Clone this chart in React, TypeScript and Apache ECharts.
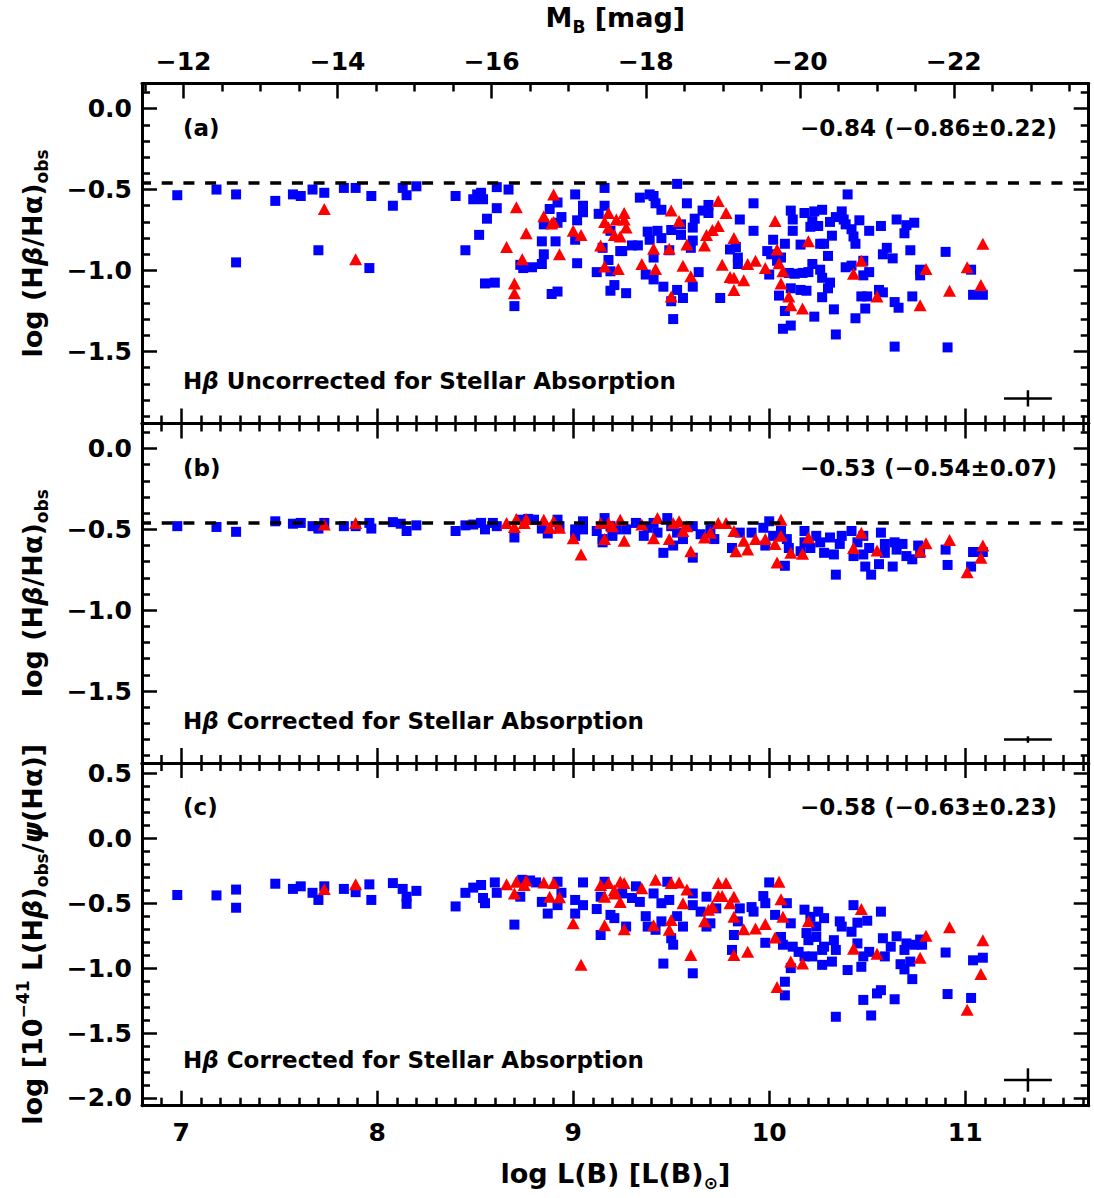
import React, { useEffect, useRef } from 'react';
import * as echarts from 'echarts';

// ---------------- data ----------------
const X_RANGE = [6.8, 11.63];
const MB_RANGE = [-23.75, -11.46];
const Y_RANGES = [[-1.945, 0.155], [-1.945, 0.155], [-2.06, 0.58]];
const BALMER_LEVEL = -0.456;

const PANEL_TAGS = ['(a)', '(b)', '(c)'];
const PANEL_STATS = ['−0.84 (−0.86±0.22)', '−0.53 (−0.54±0.07)', '−0.58 (−0.63±0.23)'];
const PANEL_NOTES = [' Uncorrected for Stellar Absorption', ' Corrected for Stellar Absorption', ' Corrected for Stellar Absorption'];

const blueA = [
  [6.98,-0.535],[7.18,-0.50],[7.28,-0.53],[7.48,-0.57],[7.57,-0.53],[7.61,-0.54],[7.67,-0.50],[7.73,-0.52],[7.83,-0.49],[7.89,-0.49],
  [7.97,-0.54],[8.08,-0.60],[8.13,-0.49],[8.15,-0.535],[8.20,-0.48],[7.28,-0.95],[7.70,-0.875],[7.96,-0.985],[8.40,-0.54],[8.49,-0.56],
  [8.51,-0.53],[8.53,-0.52],[8.54,-0.56],[8.61,-0.485],[8.67,-0.50],[8.61,-0.615],[8.56,-0.68],[8.52,-0.78],[8.45,-0.875],[8.55,-1.08],
  [8.60,-1.075],[8.70,-1.22],[8.73,-0.965],[8.745,-0.985],[8.79,-0.98],[8.84,-0.96],[8.85,-0.90],[8.84,-0.82],[8.91,-0.82],[8.88,-0.62],
  [8.92,-0.58],[8.94,-0.67],[8.85,-0.715],[8.92,-0.705],[8.89,-1.145],[8.92,-1.13],[9.01,-0.53],[9.05,-0.60],[9.05,-0.64],[9.02,-0.69],
  [9.01,-0.81],[9.02,-0.955],[9.16,-0.49],[9.16,-0.60],[9.13,-0.65],[9.19,-0.755],[9.15,-0.86],[9.18,-0.935],[9.12,-1.01],[9.19,-1.005],
  [9.21,-1.09],[9.19,-1.125],[9.24,-0.88],[9.53,-0.465],[9.34,-0.55],[9.39,-0.53],[9.41,-0.54],[9.42,-0.585],[9.45,-0.625],[9.58,-0.585],
  [9.66,-0.63],[9.69,-0.595],[9.69,-0.645],[9.62,-0.68],[9.61,-0.735],[9.55,-0.715],[9.55,-0.78],[9.50,-0.75],[9.38,-0.76],[9.43,-0.755],
  [9.39,-0.81],[9.45,-0.80],[9.41,-0.92],[9.49,-0.875],[9.30,-0.845],[9.33,-0.845],[9.25,-0.88],[9.27,-1.14],[9.37,-1.025],[9.41,-1.055],
  [9.46,-1.10],[9.53,-1.12],[9.56,-1.17],[9.50,-1.19],[9.51,-1.30],[9.64,-1.01],[9.61,-1.10],[9.60,-0.86],[9.61,-0.815],[9.75,-1.17],
  [9.85,-0.685],[9.92,-0.585],[9.92,-0.755],[9.80,-0.87],[9.83,-0.855],[9.84,-0.92],[9.84,-0.96],[10.02,-0.81],[9.99,-0.88],[10.01,-0.90],
  [10.04,-0.94],[10.0,-1.025],[10.05,-1.155],[10.11,-0.63],[10.12,-0.685],[10.12,-0.755],[10.08,-0.835],[10.16,-0.84],[10.06,-0.92],[10.18,-0.645],
  [10.23,-0.635],[10.27,-0.625],[10.22,-0.695],[10.25,-0.725],[10.21,-0.73],[10.31,-0.70],[10.34,-0.67],[10.37,-0.635],[10.38,-0.685],[10.39,-0.715],
  [10.42,-0.745],[10.46,-0.69],[10.51,-0.755],[10.43,-0.79],[10.44,-0.835],[10.32,-0.785],[10.26,-0.835],[10.28,-0.835],[10.30,-0.91],[10.10,-1.015],
  [10.13,-1.02],[10.17,-1.015],[10.22,-0.96],[10.20,-1.01],[10.26,-0.995],[10.27,-1.045],[10.31,-1.075],[10.30,-1.11],[10.11,-1.11],[10.16,-1.12],
  [10.19,-1.125],[10.08,-1.25],[10.11,-1.34],[10.07,-1.36],[10.27,-1.165],[10.23,-1.285],[10.33,-1.24],[10.34,-1.395],[10.40,-0.53],[10.39,-0.98],
  [10.42,-0.97],[10.48,-0.94],[10.48,-1.03],[10.51,-1.01],[10.44,-1.295],[10.49,-1.235],[10.47,-1.16],[10.50,-1.16],[10.58,-1.135],[10.56,-1.12],
  [10.57,-0.725],[10.60,-0.86],[10.58,-0.90],[10.63,-0.925],[10.65,-0.685],[10.69,-0.77],[10.70,-0.72],[10.74,-0.705],[10.72,-0.875],[10.77,-0.995],
  [10.77,-1.03],[10.64,-1.195],[10.66,-1.23],[10.73,-1.16],[10.64,-1.47],[10.90,-0.885],[10.91,-1.475],[11.03,-0.995],[11.04,-1.15],[11.09,-1.15]
];

const redA = [
  [7.73,-0.62],[7.89,-0.93],[8.71,-0.61],[8.76,-0.77],[8.66,-0.855],[8.74,-0.93],[8.70,-1.08],[8.70,-1.14],[8.90,-0.53],[8.85,-0.665],
  [8.89,-0.71],[8.90,-0.70],[8.93,-0.90],[9.00,-0.755],[9.04,-0.78],[9.14,-0.845],[9.18,-0.645],[9.16,-0.70],[9.18,-0.735],[9.22,-0.685],
  [9.21,-0.78],[9.16,-0.975],[9.23,-0.99],[9.26,-0.645],[9.24,-0.79],[9.27,-0.735],[9.26,-0.685],[9.41,-0.865],[9.49,-0.865],[9.35,-0.96],
  [9.42,-0.99],[9.50,-1.16],[9.56,-0.97],[9.60,-1.035],[9.50,-0.63],[9.54,-0.695],[9.58,-0.84],[9.67,-0.845],[9.68,-0.78],[9.71,-0.75],
  [9.74,-0.725],[9.74,-0.57],[9.78,-0.645],[9.82,-0.80],[9.76,-0.965],[9.80,-1.04],[9.82,-1.045],[9.87,-1.06],[9.82,-1.12],[9.89,-0.96],
  [9.93,-0.94],[9.98,-0.985],[10.03,-0.695],[10.04,-0.87],[10.05,-0.955],[10.07,-1.005],[10.06,-1.08],[10.10,-1.16],[10.11,-1.215],[10.17,-1.235],
  [10.20,-0.82],[10.47,-0.94],[10.43,-1.02],[10.55,-1.16],[10.77,-1.215],[10.80,-0.99],[10.92,-1.125],[11.01,-0.98],[11.09,-0.835],[11.08,-1.09]
];

const blueB = [
  [6.98,-0.48],[7.18,-0.485],[7.28,-0.515],[7.48,-0.45],[7.57,-0.465],[7.61,-0.46],[7.67,-0.48],[7.70,-0.495],[7.73,-0.46],[7.83,-0.48],
  [7.89,-0.48],[7.96,-0.46],[7.97,-0.495],[8.08,-0.455],[8.12,-0.465],[8.15,-0.51],[8.20,-0.475],[8.40,-0.51],[8.45,-0.475],[8.49,-0.47],
  [8.53,-0.46],[8.55,-0.50],[8.59,-0.46],[8.61,-0.48],[8.70,-0.55],[8.73,-0.44],[8.77,-0.435],[8.80,-0.44],[8.84,-0.495],[8.87,-0.525],
  [8.92,-0.44],[8.93,-0.48],[9.01,-0.50],[9.05,-0.45],[9.05,-0.50],[9.01,-0.54],[9.12,-0.51],[9.16,-0.43],[9.15,-0.58],[9.19,-0.48],
  [9.22,-0.50],[9.15,-0.56],[9.20,-0.54],[9.27,-0.50],[9.32,-0.46],[9.36,-0.54],[9.38,-0.49],[9.41,-0.46],[9.43,-0.52],[9.48,-0.43],
  [9.50,-0.48],[9.53,-0.52],[9.56,-0.56],[9.61,-0.48],[9.65,-0.53],[9.70,-0.50],[9.72,-0.56],[9.46,-0.645],[9.51,-0.60],[9.61,-0.675],
  [9.81,-0.615],[9.85,-0.52],[9.91,-0.52],[9.97,-0.49],[10.00,-0.45],[9.98,-0.60],[10.02,-0.54],[10.06,-0.51],[10.09,-0.56],[10.08,-0.725],
  [10.18,-0.51],[10.18,-0.58],[10.16,-0.635],[10.21,-0.615],[10.24,-0.54],[10.26,-0.58],[10.28,-0.645],[10.31,-0.55],[10.33,-0.655],[10.37,-0.54],
  [10.36,-0.59],[10.42,-0.51],[10.43,-0.665],[10.45,-0.58],[10.48,-0.54],[10.48,-0.655],[10.51,-0.615],[10.57,-0.52],[10.59,-0.59],[10.59,-0.645],
  [10.64,-0.58],[10.65,-0.625],[10.68,-0.59],[10.70,-0.665],[10.73,-0.685],[10.76,-0.60],[10.77,-0.645],[10.34,-0.78],[10.49,-0.73],[10.52,-0.78],
  [10.56,-0.715],[10.63,-0.73],[10.90,-0.625],[10.91,-0.72],[11.03,-0.73],[11.04,-0.64],[11.09,-0.64],[10.10,-0.615]
];

const redB = [
  [7.73,-0.47],[7.89,-0.46],[8.66,-0.46],[8.70,-0.485],[8.71,-0.435],[8.75,-0.46],[8.76,-0.435],[8.85,-0.44],[8.88,-0.49],[8.90,-0.45],
  [8.93,-0.49],[9.00,-0.555],[9.04,-0.655],[9.14,-0.46],[9.16,-0.56],[9.18,-0.46],[9.20,-0.48],[9.24,-0.44],[9.26,-0.57],[9.35,-0.47],
  [9.41,-0.555],[9.43,-0.43],[9.49,-0.56],[9.51,-0.46],[9.54,-0.45],[9.56,-0.51],[9.58,-0.48],[9.60,-0.635],[9.67,-0.55],[9.70,-0.52],
  [9.74,-0.46],[9.78,-0.46],[9.82,-0.51],[9.83,-0.635],[9.87,-0.57],[9.89,-0.625],[9.93,-0.56],[9.98,-0.56],[10.03,-0.59],[10.06,-0.44],
  [10.06,-0.54],[10.04,-0.705],[10.11,-0.645],[10.17,-0.65],[10.20,-0.55],[10.43,-0.615],[10.47,-0.52],[10.55,-0.63],[10.77,-0.635],[10.80,-0.585],
  [10.92,-0.565],[11.01,-0.765],[11.09,-0.60],[11.08,-0.675]
];

const blueC = [
  [6.98,-0.437],[7.18,-0.44],[7.28,-0.395],[7.28,-0.535],[7.48,-0.35],[7.57,-0.39],[7.61,-0.37],[7.67,-0.42],[7.70,-0.475],[7.73,-0.37],
  [7.83,-0.39],[7.89,-0.415],[7.96,-0.355],[7.97,-0.475],[8.08,-0.345],[8.13,-0.39],[8.15,-0.45],[8.15,-0.505],[8.20,-0.405],[8.40,-0.525],
  [8.45,-0.42],[8.49,-0.38],[8.53,-0.36],[8.54,-0.46],[8.55,-0.50],[8.60,-0.34],[8.61,-0.42],[8.70,-0.665],[8.73,-0.45],[8.74,-0.32],
  [8.78,-0.325],[8.81,-0.34],[8.84,-0.49],[8.87,-0.58],[8.92,-0.335],[8.94,-0.42],[8.92,-0.515],[9.01,-0.475],[9.05,-0.34],[9.05,-0.515],
  [9.01,-0.58],[9.12,-0.545],[9.14,-0.745],[9.16,-0.335],[9.19,-0.59],[9.21,-0.615],[9.14,-0.45],[9.27,-0.68],[9.25,-0.425],[9.30,-0.46],
  [9.32,-0.37],[9.34,-0.49],[9.37,-0.60],[9.38,-0.68],[9.42,-0.705],[9.41,-0.425],[9.45,-0.50],[9.45,-0.64],[9.48,-0.335],[9.49,-0.475],
  [9.50,-0.77],[9.51,-0.82],[9.46,-0.965],[9.53,-0.60],[9.56,-0.68],[9.61,-0.425],[9.61,-1.04],[9.61,-0.515],[9.65,-0.565],[9.68,-0.45],
  [9.68,-0.68],[9.70,-0.655],[9.73,-0.54],[9.82,-0.745],[9.81,-0.86],[9.85,-0.54],[9.84,-0.64],[9.91,-0.53],[9.92,-0.565],[10.00,-0.34],
  [9.97,-0.445],[9.98,-0.50],[10.03,-0.59],[9.98,-0.805],[10.09,-0.50],[10.11,-0.655],[10.06,-0.76],[10.07,-0.82],[10.11,-1.0],[10.08,-1.105],
  [10.08,-1.21],[10.18,-0.55],[10.21,-0.605],[10.25,-0.565],[10.28,-0.615],[10.24,-0.68],[10.19,-0.73],[10.20,-0.785],[10.24,-0.76],[10.28,-0.835],
  [10.33,-0.785],[10.34,-0.86],[10.36,-0.64],[10.37,-0.68],[10.42,-0.72],[10.45,-0.81],[10.43,-0.515],[10.50,-0.635],[10.45,-0.65],[10.12,-0.835],
  [10.15,-0.875],[10.18,-0.91],[10.22,-0.91],[10.27,-0.975],[10.32,-0.95],[10.27,-0.86],[10.40,-1.015],[10.47,-0.99],[10.48,-0.91],[10.51,-0.875],
  [10.57,-0.565],[10.58,-0.77],[10.62,-0.835],[10.65,-0.755],[10.69,-0.86],[10.70,-0.81],[10.74,-0.82],[10.77,-0.78],[10.78,-0.82],[10.59,-0.91],
  [10.67,-0.97],[10.69,-1.01],[10.72,-0.95],[10.73,-1.085],[10.48,-1.245],[10.55,-1.195],[10.57,-1.17],[10.64,-1.24],[10.34,-1.375],[10.52,-1.365],
  [10.90,-0.88],[10.91,-1.20],[11.03,-1.23],[11.04,-0.94],[11.09,-0.92]
];

const redC = [
  [7.73,-0.39],[7.89,-0.355],[8.66,-0.355],[8.70,-0.425],[8.71,-0.335],[8.75,-0.36],[8.76,-0.325],[8.85,-0.34],[8.88,-0.45],[8.90,-0.345],
  [8.93,-0.455],[9.00,-0.655],[9.04,-0.975],[9.14,-0.36],[9.16,-0.67],[9.18,-0.345],[9.16,-0.45],[9.21,-0.40],[9.24,-0.335],[9.26,-0.345],
  [9.21,-0.425],[9.24,-0.49],[9.35,-0.385],[9.42,-0.32],[9.50,-0.345],[9.54,-0.34],[9.58,-0.395],[9.56,-0.50],[9.26,-0.70],[9.41,-0.67],
  [9.49,-0.705],[9.50,-0.63],[9.60,-0.90],[9.67,-0.64],[9.69,-0.55],[9.71,-0.525],[9.74,-0.345],[9.78,-0.345],[9.74,-0.445],[9.76,-0.445],
  [9.82,-0.45],[9.80,-0.50],[9.82,-0.605],[9.82,-0.90],[9.87,-0.70],[9.89,-0.875],[9.93,-0.695],[9.98,-0.66],[10.03,-0.765],[10.05,-0.335],
  [10.06,-0.47],[10.07,-0.605],[10.04,-1.145],[10.11,-0.95],[10.17,-0.965],[10.20,-0.64],[10.43,-0.85],[10.47,-0.545],[10.55,-0.89],[10.77,-0.92],
  [10.80,-0.75],[10.92,-0.685],[11.01,-1.32],[11.09,-0.785],[11.08,-1.045]
];

// typical error bars (centre x, half-width dx, centre y, half-height dy)
const ERR_X = [11.32, 11.32, 11.32];
const ERR_DX = [0.122, 0.122, 0.122];
const ERR_Y = [-1.79, -1.80, -1.862];
const ERR_DY = [0.05, 0.02, 0.09];

const BLUE = [blueA, blueB, blueC];
const RED = [redA, redB, redC];

// ---------------- layout ----------------
const GRID_LEFT = 142;
const GRID_WIDTH = 946.7;
const GRID_TOPS = [83.5, 423.5, 763];
const GRID_HEIGHTS = [340, 339.5, 342.7];
const FONT = 'DejaVu Sans';

const richBase = { fontFamily: FONT, fontWeight: 'bold', color: '#000' };
const titleRich = {
  n: { ...richBase, fontSize: 27, lineHeight: 36 },
  g: { ...richBase, fontSize: 27, lineHeight: 36, fontStyle: 'italic' },
  s: { ...richBase, fontSize: 17, lineHeight: 18, verticalAlign: 'bottom' },
  p: { ...richBase, fontSize: 17, lineHeight: 18, verticalAlign: 'top' },
};

const Y_NAME_AB = '{n|log (H}{g|β}{n|/H}{n|α}{n|)}{s|obs}';
const Y_NAME_C = '{n|log [10}{p|−41}{n| L(H}{g|β}{n|)}{s|obs}{n|/}{g|ψ}{n|(H}{n|α}{n|)]}';
const X_NAME = '{n|log L(B) [L(B)}{s|⊙}{n|]}';
const MB_NAME = '{n|M}{s|B}{n| [mag]}';

const near = (v: number, step: number) => Math.abs(v / step - Math.round(v / step)) < 1e-6;
const minus = (s: string) => s.replace('-', '−');

const lineStyle = { color: '#000', width: 3 };
const tickStyle = { color: '#000', width: 2.5 };
const labelStyle = { fontFamily: FONT, fontWeight: 'bold', color: '#000', fontSize: 25 };

function makeXAxis(grid: number, position: 'top' | 'bottom', labels: boolean) {
  return {
    type: 'value', gridIndex: grid, position, min: X_RANGE[0], max: X_RANGE[1], splitNumber: 5,
    axisLine: { show: true, onZero: false, lineStyle },
    axisTick: { show: true, inside: true, length: 15, lineStyle: tickStyle },
    minorTick: { show: true, splitNumber: 10, length: 8, lineStyle: tickStyle },
    splitLine: { show: false }, minorSplitLine: { show: false },
    axisLabel: {
      show: labels, margin: 14, ...labelStyle,
      formatter: (v: number) => (near(v, 1) ? String(Math.round(v)) : ''),
    },
    name: labels ? X_NAME : '', nameLocation: 'middle', nameGap: 50,
    nameTextStyle: { rich: titleRich },
  };
}

function makeYAxis(grid: number, position: 'left' | 'right', labels: boolean) {
  return {
    type: 'value', gridIndex: grid, position, min: Y_RANGES[grid][0], max: Y_RANGES[grid][1], splitNumber: 5,
    axisLine: { show: true, onZero: false, lineStyle },
    axisTick: { show: true, inside: true, length: 15, lineStyle: tickStyle },
    minorTick: { show: true, splitNumber: 5, length: 8, lineStyle: tickStyle },
    splitLine: { show: false }, minorSplitLine: { show: false },
    axisLabel: {
      show: labels, margin: 10, ...labelStyle,
      formatter: (v: number) => (near(v, 0.5) ? minus((Math.round(v * 10) / 10).toFixed(1)) : ''),
    },
    name: labels ? (grid === 2 ? Y_NAME_C : Y_NAME_AB) : '', nameLocation: 'middle', nameGap: 92,
    nameTextStyle: { rich: titleRich },
  };
}

const mbAxis = {
  type: 'value', gridIndex: 0, position: 'top', min: MB_RANGE[0], max: MB_RANGE[1], inverse: true, splitNumber: 6,
  axisLine: { show: true, onZero: false, lineStyle },
  axisTick: { show: true, inside: true, length: 15, lineStyle: tickStyle },
  minorTick: { show: true, splitNumber: 4, length: 8, lineStyle: tickStyle },
  splitLine: { show: false }, minorSplitLine: { show: false },
  axisLabel: {
    show: true, margin: 10, ...labelStyle,
    formatter: (v: number) => (near(v, 2) ? minus(String(Math.round(v))) : ''),
  },
  name: MB_NAME, nameLocation: 'middle', nameGap: 48,
  nameTextStyle: { rich: titleRich },
};

const textRich = {
  n: { fontFamily: FONT, fontWeight: 'bold', fontSize: 23, fill: '#000' },
  g: { fontFamily: FONT, fontWeight: 'bold', fontStyle: 'italic', fontSize: 23, fill: '#000' },
};

function buildOption() {
  const grids = [0, 1, 2].map((i) => ({ left: GRID_LEFT, width: GRID_WIDTH, top: GRID_TOPS[i], height: GRID_HEIGHTS[i] }));
  const xAxis = [
    makeXAxis(0, 'bottom', false), makeXAxis(1, 'bottom', false), makeXAxis(2, 'bottom', true),
    mbAxis, makeXAxis(1, 'top', false), makeXAxis(2, 'top', false),
  ];
  const yAxis = [
    makeYAxis(0, 'left', true), makeYAxis(1, 'left', true), makeYAxis(2, 'left', true),
    makeYAxis(0, 'right', false), makeYAxis(1, 'right', false), makeYAxis(2, 'right', false),
  ];
  const series: any[] = [];
  for (let i = 0; i < 3; i++) {
    series.push({
      type: 'scatter', xAxisIndex: i, yAxisIndex: i, data: BLUE[i], symbol: 'rect', symbolSize: 10,
      itemStyle: { color: '#0000ff', opacity: 1 }, z: 2,
      markLine: i < 2 ? {
        silent: true, symbol: ['none', 'none'], label: { show: false },
        lineStyle: { color: '#000', width: 3.5, type: [11, 10.7], dashOffset: 2, opacity: 1 },
        data: [{ yAxis: BALMER_LEVEL }],
      } : undefined,
    });
    series.push({
      type: 'scatter', xAxisIndex: i, yAxisIndex: i, data: RED[i], symbol: 'triangle', symbolSize: [13, 12],
      itemStyle: { color: '#ff0000', opacity: 1 }, z: 3,
    });
    series.push({
      type: 'line', xAxisIndex: i, yAxisIndex: i, showSymbol: false, symbol: 'none',
      data: [[ERR_X[i] - ERR_DX[i], ERR_Y[i]], [ERR_X[i] + ERR_DX[i], ERR_Y[i]]],
      lineStyle: { color: '#000', width: 2.5 }, z: 4,
    });
    series.push({
      type: 'line', xAxisIndex: i, yAxisIndex: i, showSymbol: false, symbol: 'none',
      data: [[ERR_X[i], ERR_Y[i] - ERR_DY[i]], [ERR_X[i], ERR_Y[i] + ERR_DY[i]]],
      lineStyle: { color: '#000', width: 2.5 }, z: 4,
    });
  }
  const graphic: any[] = [];
  for (let i = 0; i < 3; i++) {
    const t = GRID_TOPS[i];
    graphic.push({
      type: 'text', x: 183, y: t + 44, silent: true,
      style: { text: PANEL_TAGS[i], font: `bold 23px "${FONT}"`, fill: '#000', textAlign: 'left', textVerticalAlign: 'middle' },
    });
    graphic.push({
      type: 'text', x: 1057, y: t + 44, silent: true,
      style: { text: PANEL_STATS[i], font: `bold 23px "${FONT}"`, fill: '#000', textAlign: 'right', textVerticalAlign: 'middle' },
    });
    graphic.push({
      type: 'text', x: 183, y: t + 297, silent: true,
      style: {
        text: `{n|H}{g|β}{n|${PANEL_NOTES[i]}}`, rich: textRich,
        textAlign: 'left', textVerticalAlign: 'middle',
      },
    });
  }
  return {
    animation: false,
    backgroundColor: '#fff',
    grid: grids,
    xAxis,
    yAxis,
    series,
    graphic,
  };
}

export default function App() {
  const ref = useRef<HTMLDivElement>(null);
  useEffect(() => {
    document.body.style.margin = '0';
    if (!ref.current) return;
    const chart = echarts.init(ref.current, null, { renderer: 'svg' });
    chart.setOption(buildOption() as any);
    return () => chart.dispose();
  }, []);
  return <div ref={ref} style={{ width: 1094, height: 1198 }} />;
}
